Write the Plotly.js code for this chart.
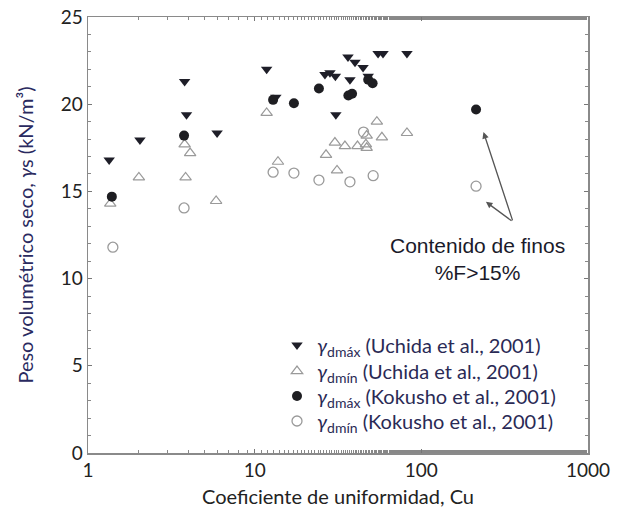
<!DOCTYPE html>
<html>
<head>
<meta charset="utf-8">
<script src="https://cdn.plot.ly/plotly-3.0.1.min.js"></script>
<style>html,body{margin:0;padding:0;background:#fff;}#chart{width:619px;height:516px;}</style>
</head>
<body>
<div id="chart"></div>
<script>
// Uchida et al., 2001 — γdmáx (filled down triangles)
const uchidaMaxCu = [1.34, 2.05, 3.8, 3.9, 5.95, 11.8, 13.4, 26.4, 28.3, 30.5, 30.7, 36.3, 37.3, 40.0, 44.7, 48.0, 55.0, 58.9, 82.0];
const uchidaMaxG  = [16.8, 17.95, 21.3, 19.4, 18.35, 22.0, 20.4, 21.7, 21.8, 21.6, 19.4, 22.7, 21.4, 22.4, 22.1, 21.6, 22.9, 22.9, 22.9];
// Uchida et al., 2001 — γdmín (open up triangles)
const uchidaMinCu = [1.36, 2.02, 3.8, 4.1, 3.85, 5.87, 11.8, 13.8, 26.8, 31.2, 30.3, 34.8, 41.4, 46.5, 47.0, 47.0, 54.1, 58.0, 82.0];
const uchidaMinG  = [14.3, 15.8, 17.7, 17.2, 15.8, 14.45, 19.5, 16.7, 17.1, 16.2, 17.8, 17.6, 17.6, 17.7, 18.2, 17.5, 19.0, 18.1, 18.35];
// Kokusho et al., 2001 — γdmáx (filled circles)
const kokushoMaxCu = [1.39, 3.77, 12.9, 17.2, 24.3, 36.5, 38.4, 48.0, 51.0, 213];
const kokushoMaxG  = [14.7, 18.2, 20.25, 20.05, 20.9, 20.5, 20.6, 21.4, 21.2, 19.7];
// Kokusho et al., 2001 — γdmín (open circles)
const kokushoMinCu = [1.41, 3.77, 12.9, 17.2, 24.3, 37.3, 45.0, 51.4, 213];
const kokushoMinG  = [11.8, 14.05, 16.1, 16.05, 15.65, 15.55, 18.4, 15.9, 15.3];

const xTickVals = [1, 10, 100, 1000];
const xTickText = ['1', '10', '100', '1000'];
const yTickVals = [0, 5, 10, 15, 20, 25];

const names = [
  '<i>γ</i><sub>dmáx</sub> (Uchida et al., 2001)',
  '<i>γ</i><sub>dmín</sub> (Uchida et al., 2001)',
  '<i>γ</i><sub>dmáx</sub> (Kokusho et al., 2001)',
  '<i>γ</i><sub>dmín</sub> (Kokusho et al., 2001)'
];

const traces = [
  {x: uchidaMaxCu, y: uchidaMaxG, name: names[0], legend: 'legend', mode: 'markers', type: 'scatter',
   marker: {symbol: 'triangle-down', size: 10, color: '#1e1e28'}},
  {x: uchidaMinCu, y: uchidaMinG, name: names[1], legend: 'legend2', mode: 'markers', type: 'scatter',
   marker: {symbol: 'triangle-up-open', size: 10, color: '#9a9a9a', line: {width: 1.2}}},
  {x: kokushoMaxCu, y: kokushoMaxG, name: names[2], legend: 'legend3', mode: 'markers', type: 'scatter',
   marker: {symbol: 'circle', size: 10, color: '#1e1e22'}},
  {x: kokushoMinCu, y: kokushoMinG, name: names[3], legend: 'legend4', mode: 'markers', type: 'scatter',
   marker: {symbol: 'circle-open', size: 10, color: '#9a9a9a', line: {width: 1.3}}}
];

const fontFam = 'Lato, "Open Sans", sans-serif';

function leg(yc) {
  return {x: 0.378, y: yc, xanchor: 'left', yanchor: 'middle',
          font: {family: fontFam, size: 20, color: '#2a2a55'},
          bgcolor: 'rgba(0,0,0,0)', itemwidth: 30};
}

const layout = {
  width: 619, height: 516,
  margin: {l: 88, r: 31, t: 17, b: 63},
  paper_bgcolor: '#ffffff', plot_bgcolor: '#ffffff',
  showlegend: true,
  legend: leg(0.2477),
  legend2: leg(0.1880),
  legend3: leg(0.1307),
  legend4: leg(0.0734),
  xaxis: {
    type: 'log', range: [0, 3],
    tickvals: xTickVals, ticktext: xTickText,
    ticks: 'inside', ticklen: 4, tickcolor: '#777',
    minor: {ticks: 'inside', ticklen: 3, tickcolor: '#888', showgrid: false},
    showline: true, linecolor: '#8a8a8a', linewidth: 1.5, mirror: 'allticks',
    showgrid: false, zeroline: false,
    tickfont: {family: fontFam, size: 19, color: '#222'},
    title: {text: 'Coeficiente de uniformidad, Cu', font: {family: fontFam, size: 20, color: '#222'}, standoff: 9}
  },
  yaxis: {
    range: [0, 25],
    tickvals: yTickVals,
    ticks: 'inside', ticklen: 4, tickcolor: '#777',
    minor: {ticks: 'inside', ticklen: 3, tickcolor: '#888', dtick: 1, showgrid: false},
    showline: true, linecolor: '#8a8a8a', linewidth: 1.5, mirror: 'allticks',
    showgrid: false, zeroline: false,
    tickfont: {family: fontFam, size: 19, color: '#222'},
    title: {text: 'Peso volumétrico seco, <i>γ</i>s (kN/m³)', font: {family: fontFam, size: 20, color: '#2a2a60'}, standoff: 21}
  },
  annotations: [
    {xref: 'x', yref: 'y', axref: 'x', ayref: 'y',
     x: Math.log10(236), y: 18.4, ax: Math.log10(355), ay: 13.25,
     showarrow: true, arrowhead: 2, arrowsize: 1, arrowwidth: 1.3, arrowcolor: '#555', text: ''},
    {xref: 'x', yref: 'y', axref: 'x', ayref: 'y',
     x: Math.log10(244), y: 14.4, ax: Math.log10(355), ay: 13.25,
     showarrow: true, arrowhead: 2, arrowsize: 1, arrowwidth: 1.3, arrowcolor: '#555', text: ''},
    {xref: 'x', yref: 'y', x: Math.log10(216), y: 11.1, showarrow: false,
     text: 'Contenido de finos<br>%F>15%', align: 'center',
     font: {family: '"Liberation Sans", Arial, sans-serif', size: 21, color: '#1a1a2a'}}
  ]
};

Plotly.newPlot('chart', traces, layout, {displayModeBar: false, staticPlot: true});
</script>
</body>
</html>
